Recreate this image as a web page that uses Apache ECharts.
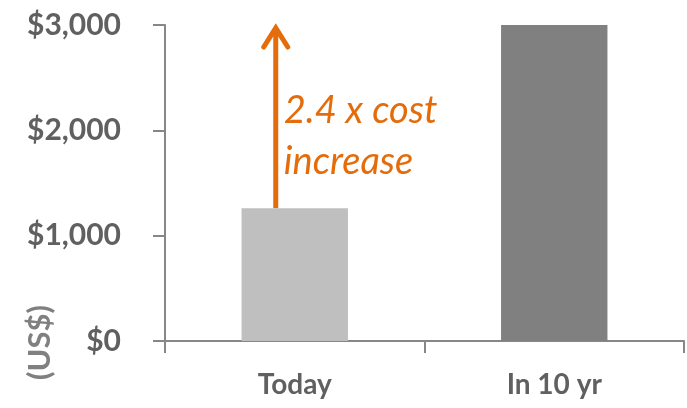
<!DOCTYPE html>
<html>
<head>
<meta charset="utf-8">
<script src="https://cdn.jsdelivr.net/npm/echarts@6/dist/echarts.min.js"></script>
<style>
  html, body { margin: 0; padding: 0; background: #fff; }
  #chart { width: 687px; height: 408px; }
</style>
</head>
<body>
<div id="chart"></div>
<script>
var categories = ['Today', 'In 10 yr'];
var costs = [1260, 3020];
var barColors = ['#bfbfbf', '#808080'];
var yTicks = [0, 1000, 2000, 3000];
var arrowTop = 3000;
var noteLines = ['2.4 x cost', 'increase'];

var FONT = 'Lato';
var chart = echarts.init(document.getElementById('chart'));

var option = {
    animation: false,
    grid: { left: 165, right: 3, top: 25, bottom: 67 },
    xAxis: {
        type: 'category',
        data: categories,
        axisLine: { lineStyle: { color: '#878787', width: 2 } },
        axisTick: { show: true, length: 12, lineStyle: { color: '#878787', width: 2 } },
        axisLabel: { margin: 30, color: '#606060', fontSize: 28, fontWeight: 'bold', fontFamily: FONT }
    },
    yAxis: {
        type: 'value',
        min: yTicks[0],
        max: yTicks[yTicks.length - 1],
        interval: 1000,
        splitLine: { show: false },
        axisLine: { show: true, lineStyle: { color: '#878787', width: 2 } },
        axisTick: { show: true, length: 12, lineStyle: { color: '#878787', width: 2 } },
        axisLabel: {
            margin: 44, color: '#606060', fontSize: 30, fontWeight: 'bold', fontFamily: FONT,
            formatter: function (v) { return '$' + v.toLocaleString('en-US'); }
        }
    },
    series: [{
        type: 'bar',
        barWidth: '41%',
        data: costs.map(function (v, i) {
            return { value: v, itemStyle: { color: barColors[i] } };
        })
    }]
};
chart.setOption(option);

// arrow + note, placed from the axis scales
var basePt = chart.convertToPixel({ seriesIndex: 0 }, [0, costs[0]]);
var topPt = chart.convertToPixel({ seriesIndex: 0 }, [0, arrowTop]);
var ax = basePt[0] - 19;
var orange = '#e46c0a';
chart.setOption({
    graphic: [{
        type: 'text',
        x: 24,
        y: 380,
        rotation: Math.PI / 2,
        style: { text: '(US$)', fill: '#808080', font: 'bold 31px ' + FONT }
    }, {
        type: 'line',
        shape: { x1: ax, y1: basePt[1], x2: ax, y2: topPt[1] + 3 },
        style: { stroke: orange, lineWidth: 5 }
    }, {
        type: 'polyline',
        shape: { points: [[ax - 12, topPt[1] + 22], [ax, topPt[1] + 3], [ax + 12, topPt[1] + 22]] },
        style: { stroke: orange, lineWidth: 5, fill: null, lineCap: 'round', lineJoin: 'miter' }
    }, {
        type: 'text',
        x: ax + 8,
        y: 85,
        style: {
            text: noteLines.join('\n'),
            fill: orange,
            font: 'italic 38px ' + FONT,
            lineHeight: 51
        }
    }]
});
</script>
</body>
</html>
